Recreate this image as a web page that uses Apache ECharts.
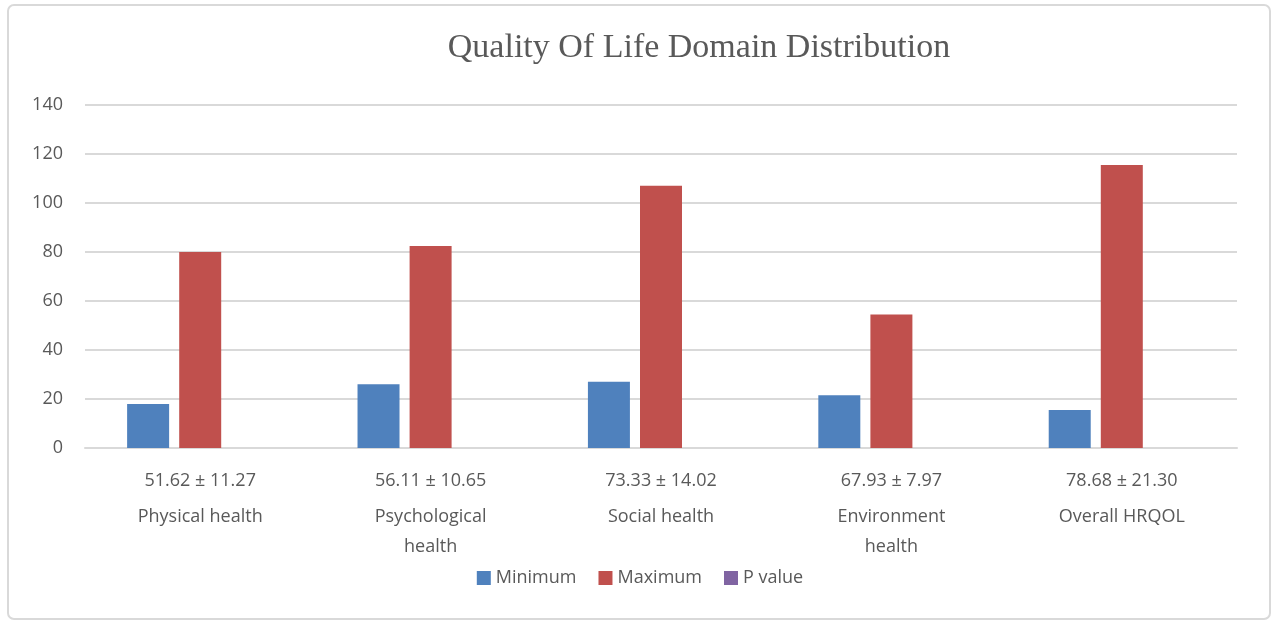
<!DOCTYPE html>
<html>
<head>
<meta charset="utf-8">
<script src="https://cdn.jsdelivr.net/npm/echarts@6/dist/echarts.min.js"></script>
<style>html,body{margin:0;padding:0;background:#fff}#main{width:1280px;height:636px}</style>
</head>
<body>
<div id="main"></div>
<script>
var meanSd = ['51.62 ± 11.27', '56.11 ± 10.65', '73.33 ± 14.02', '67.93 ± 7.97', '78.68 ± 21.30'];
var domains = ['Physical health', 'Psychological\nhealth', 'Social health', 'Environment\nhealth', 'Overall HRQOL'];
var minimum = [18, 26, 27, 21.5, 15.5];
var maximum = [80, 82.5, 107, 54.5, 115.5];
var pValue = [null, null, null, null, null];

var categories = meanSd.map(function (m, i) { return m + '|' + domains[i]; });

var myChart = echarts.init(document.getElementById('main'));
var option = {
    backgroundColor: '#fff',
    title: {
        text: 'Quality Of Life Domain Distribution',
        left: 694, top: 26, textAlign: 'center',
        textStyle: { fontFamily: 'Liberation Serif', fontWeight: 'normal', fontSize: 34, color: '#595959' }
    },
    graphic: [{
        type: 'rect', shape: { x: 8, y: 5, width: 1262, height: 614, r: 6 },
        style: { fill: 'none', stroke: '#d9d9d9', lineWidth: 2 }, silent: true
    }],
    legend: {
        bottom: 44, left: 'center', itemWidth: 14, itemHeight: 14, itemGap: 22, icon: 'rect',
        textStyle: { fontFamily: 'Open Sans', fontSize: 18, color: '#595959' },
        data: ['Minimum', 'Maximum', 'P value']
    },
    grid: { left: 85, right: 43, top: 105, bottom: 188 },
    xAxis: {
        type: 'category', data: categories,
        axisLine: { lineStyle: { color: '#d9d9d9', width: 2 } },
        axisTick: { length: 118, interval: 0, lineStyle: { color: '#d9d9d9', width: 2 } },
        axisLabel: {
            interval: 0, margin: 12,
            formatter: function (v) {
                var p = v.split('|');
                return '{a|' + p[0] + '}\n' + p[1].split('\n').map(function (s) { return '{b|' + s + '}'; }).join('\n');
            },
            rich: {
                a: { fontFamily: 'Open Sans', fontSize: 18, color: '#595959', lineHeight: 42 },
                b: { fontFamily: 'Open Sans', fontSize: 18, color: '#595959', lineHeight: 30 }
            }
        }
    },
    yAxis: {
        type: 'value', min: 0, max: 140, interval: 20,
        axisLine: { show: false }, axisTick: { show: false },
        axisLabel: { margin: 22, fontFamily: 'Open Sans', fontSize: 18, color: '#595959' },
        splitLine: { lineStyle: { color: '#d9d9d9', width: 2 } }
    },
    series: [
        { name: 'Minimum', type: 'bar', data: minimum, barWidth: 42, barGap: '24%', itemStyle: { color: '#4f81bd' } },
        { name: 'Maximum', type: 'bar', data: maximum, barWidth: 42, barGap: '24%', itemStyle: { color: '#c0504d' } },
        { name: 'P value', type: 'bar', data: pValue, barWidth: 42, barGap: '24%', itemStyle: { color: '#8064a2' } }
    ]
};
myChart.setOption(option);
</script>
</body>
</html>
